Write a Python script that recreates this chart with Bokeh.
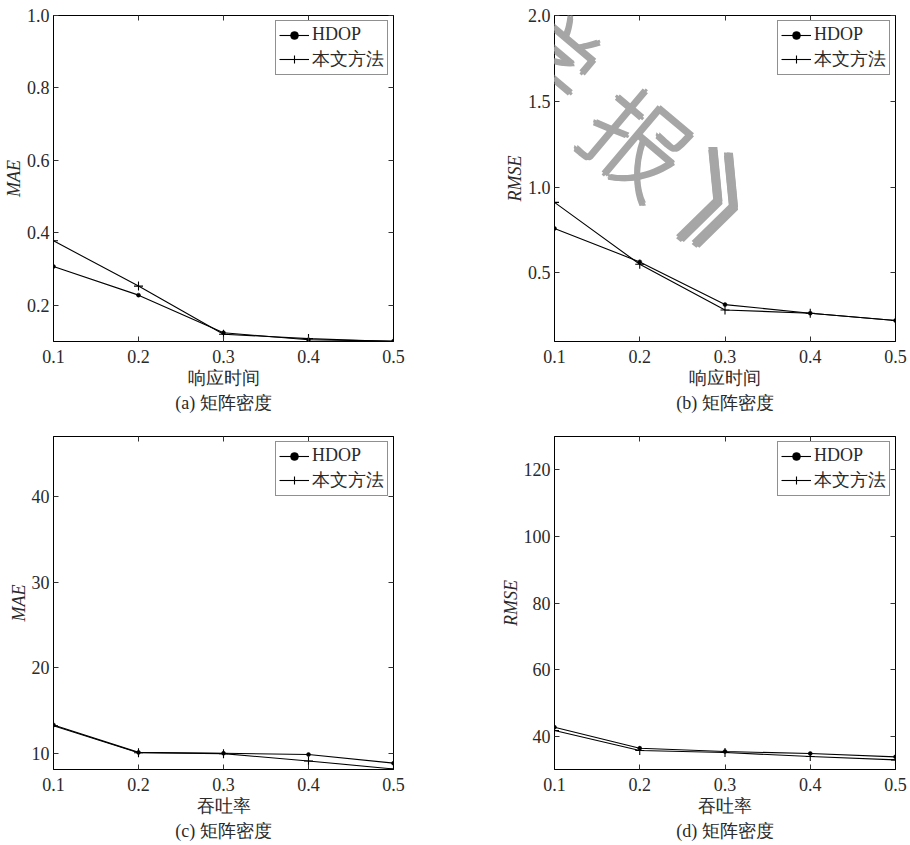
from bokeh.plotting import figure
from bokeh.layouts import gridplot
from bokeh.models import (LinearAxis, FixedTicker, Range1d, Legend, LegendItem,
                          Title, Label, NumeralTickFormatter)
from bokeh.embed import file_html
from bokeh.resources import INLINE

# ---------------- data ----------------
x_vals = [0.1, 0.2, 0.3, 0.4, 0.5]
x_ticks = [0.1, 0.2, 0.3, 0.4, 0.5]
series_names = ["HDOP", "本文方法"]

a_hdop = [0.307, 0.228, 0.124, 0.105, 0.101]
a_ours = [0.378, 0.253, 0.120, 0.108, 0.100]
a_yticks = [0.2, 0.4, 0.6, 0.8, 1.0]

b_hdop = [0.759, 0.564, 0.315, 0.265, 0.222]
b_ours = [0.911, 0.550, 0.284, 0.265, 0.222]
b_yticks = [0.5, 1.0, 1.5, 2.0]

c_hdop = [13.3, 10.1, 10.0, 9.85, 8.84]
c_ours = [13.2, 10.05, 9.95, 9.1, 8.15]
c_yticks = [10, 20, 30, 40]

d_hdop = [42.7, 36.4, 35.4, 34.8, 33.8]
d_ours = [41.7, 35.7, 35.1, 33.9, 32.9]
d_yticks = [40, 60, 80, 100, 120]

x_label_top = "响应时间"
x_label_bottom = "吞吐率"
captions = ["(a) 矩阵密度", "(b) 矩阵密度", "(c) 矩阵密度", "(d) 矩阵密度"]
watermark_chars = ["学", "报", "》"]

SERIF = "Liberation Serif"
TXT = "#2a2a2a"


def make_panel(ys_hdop, ys_ours, y_lo, y_hi, yticks, yfmt, ylabel, xlabel, caption,
               w, h, bl, br, bt, bb):
    p = figure(width=w, height=h, output_backend="svg", toolbar_location=None,
               x_range=Range1d(0.1, 0.5), y_range=Range1d(y_lo, y_hi),
               min_border_left=bl, min_border_right=br,
               min_border_top=bt, min_border_bottom=bb,
               x_axis_type=None, y_axis_type=None)
    p.grid.visible = False
    p.outline_line_color = "black"
    p.outline_line_width = 1
    p.background_fill_color = "white"
    p.border_fill_color = "white"

    def style(ax, show_labels):
        ax.axis_line_color = "black"
        ax.major_tick_in = 5
        ax.major_tick_out = 0
        ax.minor_tick_line_color = None
        ax.major_tick_line_color = "#333333"
        ax.major_label_text_font = SERIF
        ax.major_label_text_font_size = "18px" if show_labels else "0px"
        ax.major_label_text_color = TXT
        if not show_labels:
            ax.major_label_standoff = 0

    xb = LinearAxis(ticker=FixedTicker(ticks=x_ticks),
                    formatter=NumeralTickFormatter(format="0.0"))
    style(xb, True)
    xb.major_label_standoff = 8
    xb.axis_label = xlabel
    xb.axis_label_text_font = SERIF
    xb.axis_label_text_font_style = "normal"
    xb.axis_label_text_font_size = "18px"
    xb.axis_label_text_color = TXT
    xb.axis_label_standoff = 2
    p.add_layout(xb, "below")

    xt = LinearAxis(ticker=FixedTicker(ticks=x_ticks))
    style(xt, False)
    p.add_layout(xt, "above")

    yl = LinearAxis(ticker=FixedTicker(ticks=yticks),
                    formatter=NumeralTickFormatter(format=yfmt))
    style(yl, True)
    yl.major_label_standoff = 4
    yl.axis_label = ylabel
    yl.axis_label_text_font = SERIF
    yl.axis_label_text_font_style = "italic"
    yl.axis_label_text_font_size = "18px"
    yl.axis_label_text_color = TXT
    yl.axis_label_standoff = 0
    p.add_layout(yl, "left")

    yr = LinearAxis(ticker=FixedTicker(ticks=yticks))
    style(yr, False)
    p.add_layout(yr, "right")

    cap = Title(text=caption, align="center", text_font=SERIF, text_font_size="18px",
                text_font_style="normal", text_color=TXT, standoff=0)
    p.add_layout(cap, "below")

    l1 = p.line(x_vals, ys_hdop, line_color="black", line_width=1.1)
    m1 = p.scatter(x_vals, ys_hdop, marker="circle", size=4, fill_color="black",
                   line_color="black", line_width=0.5)
    l2 = p.line(x_vals, ys_ours, line_color="black", line_width=1.1)
    m2 = p.scatter(x_vals, ys_ours, marker="cross", size=9, line_color="black",
                   line_width=1.1)

    leg = Legend(items=[LegendItem(label=series_names[0], renderers=[l1, m1]),
                        LegendItem(label=series_names[1], renderers=[l2, m2])],
                 location="top_right")
    leg.label_text_font = SERIF
    leg.label_text_font_size = "18px"
    leg.label_text_color = TXT
    leg.border_line_color = "#222222"
    leg.border_line_width = 1
    leg.background_fill_color = "white"
    leg.background_fill_alpha = 1
    leg.padding = 3
    leg.spacing = 2
    leg.margin = 5
    leg.glyph_width = 30
    leg.glyph_height = 20
    leg.label_height = 20
    leg.label_standoff = 3
    p.add_layout(leg, "center")
    return p


pa = make_panel(a_hdop, a_ours, 0.1, 1.0, a_yticks, "0.0", "MAE", x_label_top,
                captions[0], 455, 420, 53, 61, 15, 79)
pb = make_panel(b_hdop, b_ours, 0.1, 2.0, b_yticks, "0.0", "RMSE", x_label_top,
                captions[1], 455, 420, 99, 15, 13, 79)
pc = make_panel(c_hdop, c_ours, 8.1, 47, c_yticks, "0", "MAE", x_label_bottom,
                captions[2], 455, 425, 52, 62, 13, 76)
pd = make_panel(d_hdop, d_ours, 30, 130, d_yticks, "0", "RMSE", x_label_bottom,
                captions[3], 455, 425, 99, 13, 16, 76)

# grey journal watermark over panel (b); small offsets thicken the strokes
wm_pos = [(-6, 291, 100, -0.7), (86, 203, 100, -0.7), (187, 138, 105, -0.35)]
offsets = [(0, 0), (1.5, 1.5), (-1.5, 1.5), (1.5, -1.5), (-1.5, -1.5)]
for ch, (sx, sy, fs, ang) in zip(watermark_chars, wm_pos):
    for dx, dy in offsets:
        pb.add_layout(Label(x=sx + dx, y=sy + dy, x_units="screen", y_units="screen",
                            text=ch, text_font="Noto Sans CJK SC",
                            text_font_size=f"{fs}px", text_color="#a6a6a6",
                            text_align="center", text_baseline="middle", angle=ang))

grid = gridplot([[pa, pb], [pc, pd]], toolbar_location=None)
open("out.html", "w").write(file_html(grid, INLINE))
